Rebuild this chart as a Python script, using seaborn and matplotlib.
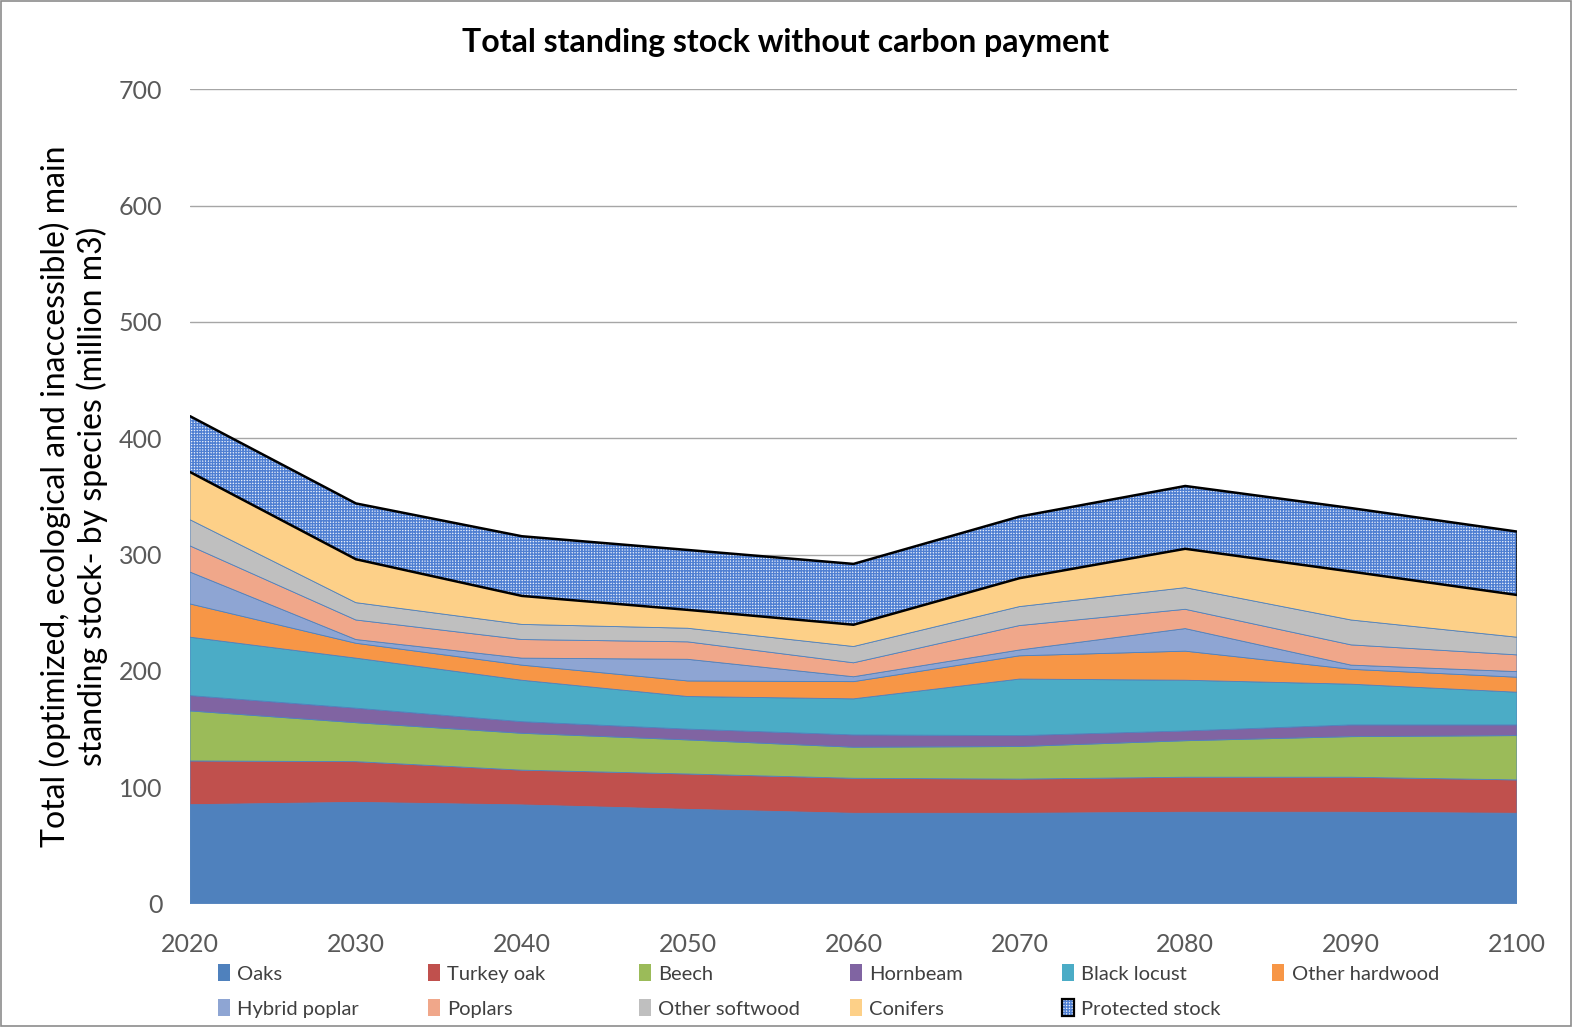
import matplotlib
matplotlib.use("Agg")
import matplotlib.pyplot as plt
from matplotlib.patches import Patch, Rectangle
from matplotlib.legend_handler import HandlerTuple
import numpy as np
import pandas as pd
import seaborn as sns

# Standing stock by species, million m3
years = [2020, 2030, 2040, 2050, 2060, 2070, 2080, 2090, 2100]
oaks = [85.0, 87.0, 84.8, 81.0, 77.6, 77.6, 78.5, 78.5, 77.6]
turkey_oak = [37.6, 35.0, 29.9, 30.4, 30.1, 29.4, 30.1, 30.1, 28.7]
beech = [43.0, 33.5, 31.7, 29.3, 26.7, 28.0, 31.4, 34.9, 38.1]
hornbeam = [13.2, 12.5, 10.0, 9.3, 10.6, 9.4, 8.4, 10.1, 9.2]
black_locust = [50.2, 43.0, 35.6, 28.0, 31.0, 48.6, 43.6, 35.0, 28.1]
other_hardwood = [28.6, 12.8, 13.0, 13.4, 14.8, 20.0, 25.0, 12.8, 12.9]
hybrid_poplar = [27.4, 3.2, 6.0, 18.6, 4.2, 5.0, 19.4, 3.6, 4.8]
poplars = [22.5, 16.8, 16.0, 15.0, 12.0, 21.0, 16.6, 17.4, 14.4]
other_softwood = [22.5, 14.9, 13.0, 11.7, 14.0, 16.3, 18.6, 21.4, 15.2]
conifers = [41.0, 37.3, 24.5, 15.8, 18.7, 24.4, 33.4, 41.6, 36.3]
protected_stock = [48.0, 48.0, 51.3, 51.5, 52.3, 53.0, 54.0, 54.6, 54.5]

species = ["Oaks", "Turkey oak", "Beech", "Hornbeam", "Black locust",
           "Other hardwood", "Hybrid poplar", "Poplars", "Other softwood",
           "Conifers"]
series = [oaks, turkey_oak, beech, hornbeam, black_locust, other_hardwood,
          hybrid_poplar, poplars, other_softwood, conifers]
colors = ["#4F81BD", "#C0504D", "#9BBB59", "#8064A2", "#4BACC6", "#F79646",
          "#8EA5D3", "#F0A78A", "#BFBFBF", "#FDD088"]
protected_face = "#E9EFFA"
protected_hatch = "#4F7FD2"

df = pd.DataFrame(dict(zip(species, series)), index=years)
df["Protected stock"] = protected_stock

sns.set_theme(style="white")
plt.rcParams["font.family"] = ["Lato", "DejaVu Sans"]
plt.rcParams["hatch.linewidth"] = 1.0

fig = plt.figure(figsize=(15.72, 10.27), dpi=100)
ax = fig.add_axes([0.1209, 0.1202, 0.965 - 0.1209, 0.913 - 0.1202])

# horizontal gridlines behind the areas
ax.set_axisbelow(True)
ax.yaxis.grid(True, color="#A6A6A6", linewidth=1.0)
ax.xaxis.grid(False)

x = np.array(years)
ax.stackplot(x, *[df[s].values for s in species], colors=colors,
             linewidth=0.6, edgecolors=colors, zorder=2)

lower = df[species].sum(axis=1).values
upper = lower + df["Protected stock"].values
ax.fill_between(x, lower, upper, facecolor=protected_face,
                edgecolor=protected_hatch, hatch="++++++", linewidth=0,
                zorder=3)

# black outline of the protected stock band
outline = pd.DataFrame({"year": np.concatenate([x, x]),
                        "value": np.concatenate([upper, lower]),
                        "edge": ["top"] * len(x) + ["bottom"] * len(x)})
sns.lineplot(data=outline, x="year", y="value", units="edge", estimator=None,
             color="black", linewidth=1.8, ax=ax, zorder=4, legend=False)
ax.vlines(x[-1], lower[-1], upper[-1], color="black", linewidth=1.8, zorder=4)

ax.set_xlim(2020, 2100)
ax.set_ylim(0, 700)
ax.set_xticks(years)
ax.set_yticks(range(0, 701, 100))
ax.tick_params(axis="y", length=0, pad=20, labelsize=18, labelcolor="#595959")
ax.tick_params(axis="x", length=0, pad=21, labelsize=18, labelcolor="#595959")
for side in ["left", "right", "top", "bottom"]:
    ax.spines[side].set_visible(False)
ax.set_xlabel("")
ax.set_ylabel("Total (optimized, ecological and inaccessible) main\n"
              "standing stock- by species (million m3)",
              fontsize=23, color="black", labelpad=8, linespacing=1.2)

fig.text(0.5, 0.959, "Total standing stock without carbon payment",
         ha="center", va="center", fontsize=23, fontweight="bold",
         color="black")

# legend laid out in two rows of equally spaced entries
handles = [Patch(facecolor=c, edgecolor="none") for c in colors]
handles.append((Patch(facecolor=protected_face, edgecolor=protected_hatch,
                      hatch="++++++", linewidth=0),
                Patch(facecolor="none", edgecolor="black", linewidth=1.6)))
labels = species + ["Protected stock"]
col_x = [0.132, 0.266, 0.400, 0.534, 0.669, 0.803]
row_y = [0.052, 0.018]
for i, (h, lab) in enumerate(zip(handles, labels)):
    r, c = divmod(i, 6)
    fig.legend(handles=[h], labels=[lab], loc="center left",
               bbox_to_anchor=(col_x[c], row_y[r]), frameon=False,
               fontsize=14.5, handlelength=0.6, handleheight=0.9,
               handletextpad=0.35, borderpad=0, labelcolor="#404040",
               handler_map={tuple: HandlerTuple(ndivide=1, pad=0)})

fig.patches.append(Rectangle((0.0005, 0.0005), 0.999, 0.999,
                             transform=fig.transFigure, fill=False,
                             edgecolor="#8C8C8C", linewidth=1.2))

fig.savefig("out.png", dpi=100)
